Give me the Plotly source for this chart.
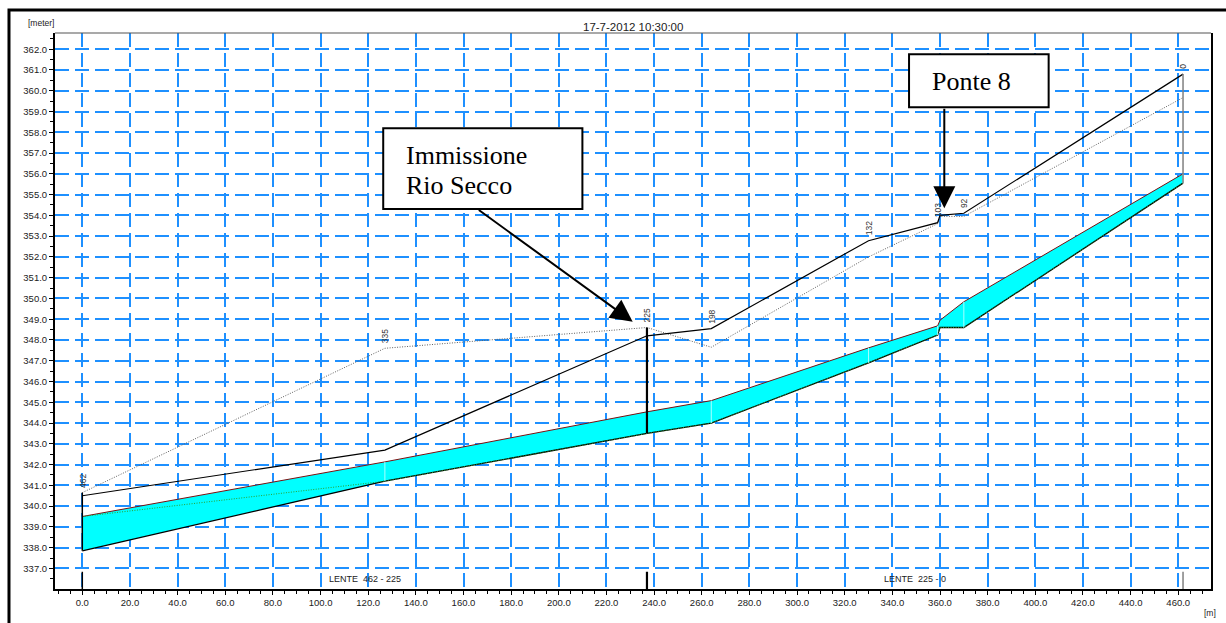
import numpy as np
import plotly.graph_objects as go

# ---- longitudinal profile data (distance along the reach, m) ----
distance = [0, 127, 237, 264, 330, 359, 360, 370, 462]
bank_left = [340.5, 342.7, 348.2, 348.55, 352.78, 353.65, 354.0, 354.1, 360.8]
bank_right = [340.65, 347.6, 348.6, 347.65, 352.0, 353.6, 353.95, 353.95, 359.67]
water_level = [339.5, 342.13, 344.54, 345.08, 347.62, 348.68, 348.95, 349.84, 356.0]
bed_level = [337.85, 341.2, 343.5, 344.0, 346.9, 348.24, 348.6, 348.6, 355.55]
critical_level = [339.5, 341.2, 343.5, 344.0, 346.9, 348.24, 348.6, 348.6, 355.55]

# cross-section chainages shown above the profile
section_chainage = [462, 335, 225, 198, 132, 103, 92, 0]
reach_length = 462

# reach (lente) boundaries and names
reach_bounds = [0, 237, 462]
reach_names = ["LENTE  462 - 225", "LENTE  225 - 0"]

title_text = "17-7-2012 10:30:00"

X_RANGE = [-11.46, 473.74]
Y_RANGE = [336.01, 362.78]

GRID = "rgb(30,144,255)"
FONT = "Liberation Sans, Arial, sans-serif"
SERIF = "Liberation Serif, Times New Roman, serif"

fig = go.Figure()

# bed, then water surface filled down to the bed
fig.add_trace(go.Scatter(x=distance, y=bed_level, mode="lines",
                         line=dict(color="black", width=1.3), hoverinfo="skip"))
fig.add_trace(go.Scatter(x=distance, y=water_level, mode="lines", fill="tonexty",
                         fillcolor="#00ffff",
                         line=dict(color="#7a1010", width=1), hoverinfo="skip"))
fig.add_trace(go.Scatter(x=distance, y=critical_level, mode="lines",
                         line=dict(color="#2ca02c", width=1, dash="1px,1.5px"), hoverinfo="skip"))

# light section marks inside the wetted area
for ch in section_chainage:
    d = reach_length - ch
    fig.add_trace(go.Scatter(x=[d, d],
                             y=[np.interp(d, distance, bed_level), np.interp(d, distance, water_level)],
                             mode="lines", line=dict(color="#a8ffff", width=1), hoverinfo="skip"))

# bank lines
fig.add_trace(go.Scatter(x=distance, y=bank_right, mode="lines",
                         line=dict(color="#606060", width=1, dash="1px,1.5px"), hoverinfo="skip"))
fig.add_trace(go.Scatter(x=distance, y=bank_left, mode="lines",
                         line=dict(color="black", width=1.2), hoverinfo="skip"))

# reach boundary sections
bound_style = [("black", 1.5), ("black", 2.2), ("#808080", 1.5)]
for b, (col, w) in zip(reach_bounds, bound_style):
    top = max(np.interp(b, distance, bank_left), np.interp(b, distance, bank_right))
    fig.add_trace(go.Scatter(x=[b, b], y=[np.interp(b, distance, bed_level), top],
                             mode="lines", line=dict(color=col, width=w), hoverinfo="skip"))
    fig.add_trace(go.Scatter(x=[b, b], y=[Y_RANGE[0], 336.84],
                             mode="lines", line=dict(color=col, width=w), hoverinfo="skip"))

annotations = []

# chainage labels
for ch in section_chainage:
    d = reach_length - ch
    top = max(np.interp(d, distance, bank_left), np.interp(d, distance, bank_right))
    annotations.append(dict(x=d, y=top, text=str(ch), textangle=-90, showarrow=False,
                            xanchor="center", yanchor="bottom", yshift=3,
                            font=dict(family=FONT, size=8.5, color="#333")))

# reach names
for i, name in enumerate(reach_names):
    annotations.append(dict(x=(reach_bounds[i] + reach_bounds[i + 1]) / 2, y=336.48,
                            text=name, showarrow=False, xanchor="center", yanchor="middle",
                            font=dict(family=FONT, size=9, color="#222")))

# title and units
annotations.append(dict(x=0.5, y=1.0108, xref="paper", yref="paper", text=title_text,
                        showarrow=False, xanchor="center", yanchor="middle",
                        font=dict(family=FONT, size=11.5, color="#222")))
annotations.append(dict(x=-0.0121, y=1.018, xref="paper", yref="paper", text="[meter]",
                        showarrow=False, xanchor="center", yanchor="middle",
                        font=dict(family=FONT, size=8.5, color="#222")))
annotations.append(dict(x=0.999, y=-0.043, xref="paper", yref="paper", text="[m]",
                        showarrow=False, xanchor="center", yanchor="middle",
                        font=dict(family=FONT, size=8.5, color="#222")))

# callout texts
annotations.append(dict(x=135.2, y=356.9, text="Immissione", showarrow=False,
                        xanchor="left", yanchor="middle",
                        font=dict(family=SERIF, size=26, color="black")))
annotations.append(dict(x=135.2, y=355.45, text="Rio Secco", showarrow=False,
                        xanchor="left", yanchor="middle",
                        font=dict(family=SERIF, size=26, color="black")))
annotations.append(dict(x=355.8, y=360.43, text="Ponte 8", showarrow=False,
                        xanchor="left", yanchor="middle",
                        font=dict(family=SERIF, size=26, color="black")))

# callout arrows
annotations.append(dict(x=231.0, y=348.88, ax=165.8, ay=354.31, axref="x", ayref="y",
                        text="", showarrow=True, arrowhead=2, arrowsize=2.2,
                        arrowwidth=2, arrowcolor="black", standoff=0, startstandoff=0))
annotations.append(dict(x=361.8, y=354.34, ax=361.8, ay=359.21, axref="x", ayref="y",
                        text="", showarrow=True, arrowhead=2, arrowsize=2.2,
                        arrowwidth=2, arrowcolor="black", standoff=0, startstandoff=0))

shapes = [
    # callout boxes
    dict(type="rect", x0=126.3, x1=209.9, y0=354.31, y1=358.19, xref="x", yref="y",
         line=dict(color="black", width=2), fillcolor="white", layer="above"),
    dict(type="rect", x0=347.0, x1=405.6, y0=359.21, y1=361.76, xref="x", yref="y",
         line=dict(color="black", width=2), fillcolor="white", layer="above"),
    # top border of the plot area
    dict(type="line", x0=0, x1=1, y0=1, y1=1, xref="paper", yref="paper",
         line=dict(color="#555", width=1.2)),
    # outer frame
    dict(type="rect", x0=-0.0398, x1=1.05, y0=-0.2, y1=1.0413, xref="paper", yref="paper",
         line=dict(color="black", width=3), fillcolor="rgba(0,0,0,0)"),
]

fig.update_layout(
    width=1226, height=623,
    margin=dict(l=55, r=15, t=33, b=34),
    paper_bgcolor="white", plot_bgcolor="white",
    showlegend=False,
    annotations=annotations,
    shapes=shapes,
    xaxis=dict(range=X_RANGE, tick0=0, dtick=20, tickformat=".1f",
               showgrid=True, gridcolor=GRID, gridwidth=1.7, griddash="14px,6px",
               zeroline=False, showline=True, linecolor="black", linewidth=2,
               ticks="outside", ticklen=4, tickwidth=1, tickcolor="black",
               tickfont=dict(family=FONT, size=9.5, color="#222"),
               minor=dict(dtick=5, tick0=0, ticks="outside", ticklen=3, tickcolor="black",
                          showgrid=False)),
    yaxis=dict(range=Y_RANGE, tick0=337, dtick=1, tickformat=".1f",
               showgrid=True, gridcolor=GRID, gridwidth=1.7, griddash="14px,6px",
               zeroline=False, showline=True, linecolor="black", linewidth=2,
               mirror=True,
               ticks="outside", ticklen=4, tickwidth=1, tickcolor="black",
               tickfont=dict(family=FONT, size=9.5, color="#222"),
               minor=dict(dtick=0.5, tick0=337, ticks="outside", ticklen=3, tickcolor="black",
                          showgrid=False)),
)

fig.write_html("out.html")
